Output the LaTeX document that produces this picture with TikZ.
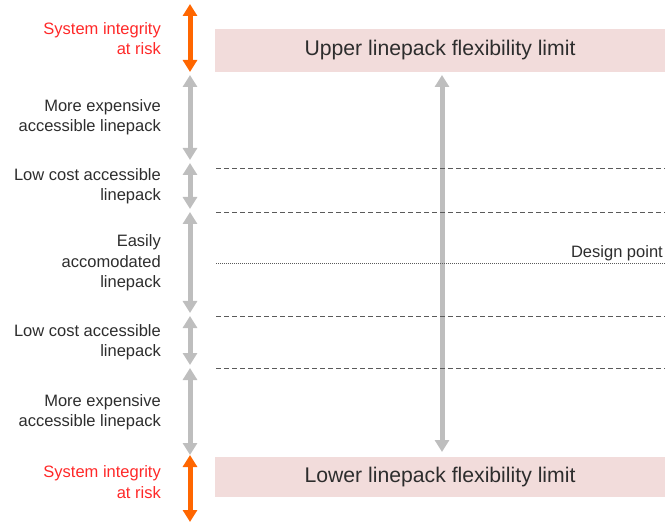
\documentclass[tikz,border=0pt]{standalone}
\usepackage{fontspec}
\setmainfont{Liberation Sans}
\usetikzlibrary{arrows.meta}
\definecolor{txtgray}{RGB}{45,45,45}
\definecolor{riskred}{RGB}{255,40,40}
\definecolor{arrorange}{RGB}{255,102,0}
\definecolor{arrgray}{RGB}{190,190,190}
\definecolor{boxpink}{RGB}{242,220,219}
\definecolor{linegray}{RGB}{90,90,90}
\tikzset{
  x=1pt, y=-1pt,
  lbl/.style={anchor=east, align=right, inner sep=0pt, text=txtgray, font=\fontsize{16.5}{20.5}\selectfont},
  risklbl/.style={lbl, text=riskred},
  limitbox/.style={fill=boxpink, draw=none, minimum width=450pt, inner sep=0pt, text=txtgray, font=\fontsize{21.2}{25}\selectfont},
  twoway/.style={line width=5pt, {Triangle[width=14pt,length=12pt]}-{Triangle[width=14pt,length=12pt]}},
  grayarr/.style={twoway, draw=arrgray},
  orangearr/.style={twoway, draw=arrorange},
  levelline/.style={draw=linegray, line width=0.9pt, dash pattern=on 5pt off 3pt},
  designline/.style={draw=linegray, line width=0.9pt, dash pattern=on 1pt off 1pt}
}
\begin{document}
\begin{tikzpicture}
\useasboundingbox (0,0) rectangle (665,524);
% limit boxes
\node[limitbox, minimum height=43pt] (upper) at (440,50.5) {Upper linepack flexibility limit};
\node[limitbox, minimum height=40pt] (lower) at (440,477) {Lower linepack flexibility limit};
% left scale coordinates
\coordinate (a0) at (190,4);
\coordinate (a1) at (190,72);
\coordinate (a2) at (190,75);
\coordinate (a3) at (190,160);
\coordinate (a4) at (190,163);
\coordinate (a5) at (190,209);
\coordinate (a6) at (190,212);
\coordinate (a7) at (190,313);
\coordinate (a8) at (190,316);
\coordinate (a9) at (190,365);
\coordinate (a10) at (190,368);
\coordinate (a11) at (190,455);
\coordinate (a12) at (190,455);
\coordinate (a13) at (190,522);
% central arrow
\coordinate (ct) at (442,75);
\coordinate (cb) at (442,452);
\draw[grayarr] (ct) -- (cb);
% scale arrows
\draw[orangearr] (a0) -- (a1);
\draw[grayarr] (a2) -- (a3);
\draw[grayarr] (a4) -- (a5);
\draw[grayarr] (a6) -- (a7);
\draw[grayarr] (a8) -- (a9);
\draw[grayarr] (a10) -- (a11);
\draw[orangearr] (a12) -- (a13);
% level lines
\coordinate (l1a) at (216,168); \coordinate (l1b) at (665,168);
\coordinate (l2a) at (216,212); \coordinate (l2b) at (665,212);
\coordinate (l3a) at (216,316); \coordinate (l3b) at (665,316);
\coordinate (l4a) at (216,368); \coordinate (l4b) at (665,368);
\coordinate (dpa) at (216,263); \coordinate (dpb) at (665,263);
\draw[levelline] (l1a) -- (l1b);
\draw[levelline] (l2a) -- (l2b);
\draw[levelline] (l3a) -- (l3b);
\draw[levelline] (l4a) -- (l4b);
\draw[designline] (dpa) -- (dpb);
\node[lbl, anchor=east] (dp) at (663,253) {Design point};
% labels
\node[risklbl] (t1) at (161,38.5) {System integrity\\at risk};
\node[lbl] (t2) at (161,117) {More expensive\\accessible linepack};
\node[lbl] (t3) at (161,186) {Low cost accessible\\linepack};
\node[lbl] (t4) at (161,263) {Easily\\accomodated\\linepack};
\node[lbl] (t5) at (161,342) {Low cost accessible\\linepack};
\node[lbl] (t6) at (161,412) {More expensive\\accessible linepack};
\node[risklbl] (t7) at (161,482) {System integrity\\at risk};
\end{tikzpicture}
\end{document}
